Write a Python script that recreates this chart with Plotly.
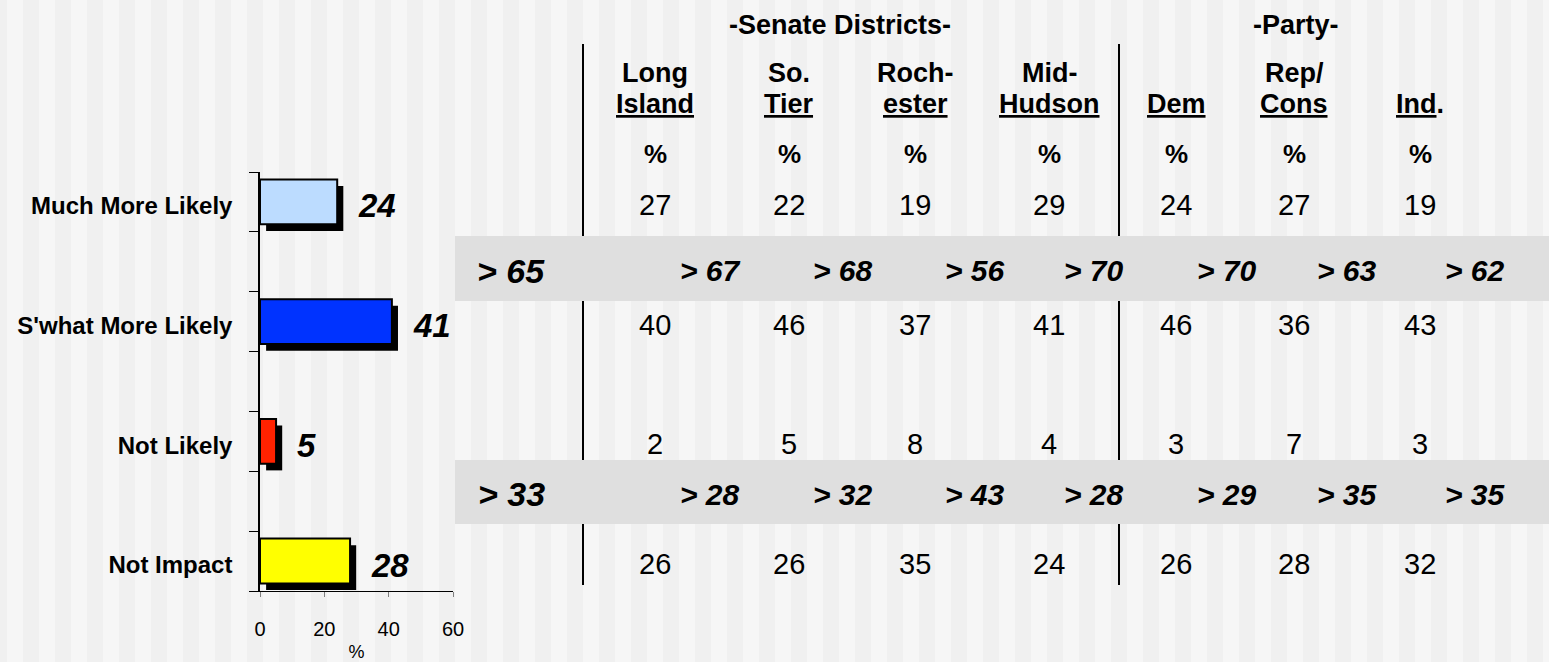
import plotly.graph_objects as go

# ---------------- data ----------------
categories = ["Much More Likely", "S'what More Likely", "Not Likely", "Not Impact"]
totals = [24, 41, 5, 28]
bar_colors = ["#bcdcff", "#0033ff", "#ff2200", "#ffff00"]

columns_top = ["Long", "So.", "Roch-", "Mid-", "", "Rep/", ""]
columns_bottom = ["Island", "Tier", "ester", "Hudson", "Dem", "Cons", "Ind"]
columns_suffix = ["", "", "", "", "", "", "."]
much_more = [27, 22, 19, 29, 24, 27, 19]
swhat_more = [40, 46, 37, 41, 46, 36, 43]
not_likely = [2, 5, 8, 4, 3, 7, 3]
not_impact = [26, 26, 35, 24, 26, 28, 32]
table_rows = [much_more, swhat_more, not_likely, not_impact]

net_more = [65, 67, 68, 56, 70, 70, 63, 62]
net_not = [33, 28, 32, 43, 28, 29, 35, 35]

x_ticks = [0, 20, 40, 60]

# ---------------- layout constants (pixels) ----------------
W, H = 1549, 662
PLOT_L, PLOT_R, PLOT_T, PLOT_B = 260, 453, 172, 591
col_px = [655, 789, 915, 1049, 1176, 1294, 1420]
net_px = [511, 710, 843, 975, 1094, 1227, 1347, 1475]
group_titles = [("-Senate Districts-", 840), ("-Party-", 1296)]
divider_px = [583, 1119]
bands_px = [(236, 301), (460, 524)]


def px(x):
    return x / W


def py(y):
    return 1 - y / H


FONT = "Liberation Sans, Arial, sans-serif"

positions = [2 * i for i in range(len(categories))]
bar_w = 0.75

fig = go.Figure()
# shadow bars
fig.add_trace(go.Bar(
    y=positions, x=totals, base=1.9, orientation="h", width=bar_w,
    offset=-bar_w / 2 + 0.11, marker=dict(color="black", line=dict(width=0)),
    hoverinfo="skip"))
# main bars
fig.add_trace(go.Bar(
    y=positions, x=totals, orientation="h", width=bar_w, offset=-bar_w / 2,
    marker=dict(color=bar_colors, line=dict(color="black", width=2))))

shapes = []
# background stripes
for k in range(0, W // 32 + 2):
    shapes.append(dict(type="rect", xref="paper", yref="paper",
                       x0=px(32 * k - 9), x1=px(32 * k + 7), y0=0, y1=1,
                       fillcolor="#f0f0f0", line=dict(width=0), layer="below"))
# dividers
for xd in divider_px:
    shapes.append(dict(type="line", xref="paper", yref="paper",
                       x0=px(xd), x1=px(xd), y0=py(44), y1=py(585),
                       line=dict(color="black", width=2), layer="below"))
# grey bands
for (y0, y1) in bands_px:
    shapes.append(dict(type="rect", xref="paper", yref="paper",
                       x0=px(455), x1=1, y0=py(y1), y1=py(y0),
                       fillcolor="#dfdfdf", line=dict(width=0), layer="below"))

ann = []
# value labels next to bars
for p, v in zip(positions, totals):
    ann.append(dict(x=v, y=p, xref="x", yref="y", text=f"<b><i>{v}</i></b>",
                    showarrow=False, xanchor="left", yanchor="middle",
                    xshift=19, yshift=-4,
                    font=dict(family=FONT, size=33, color="black")))

# group titles
for t, xc in group_titles:
    ann.append(dict(x=px(xc), y=py(25), xref="paper", yref="paper",
                    text=f"<b>{t}</b>", showarrow=False, xanchor="center",
                    yanchor="middle", font=dict(family=FONT, size=27, color="black")))

# column headers
for i, xc in enumerate(col_px):
    if columns_top[i]:
        ann.append(dict(x=px(xc), y=py(73), xref="paper", yref="paper",
                        text=f"<b>{columns_top[i]}</b>", showarrow=False,
                        xanchor="center", yanchor="middle",
                        font=dict(family=FONT, size=27, color="black")))
    ann.append(dict(x=px(xc), y=py(104), xref="paper", yref="paper",
                    text=f"<b><u>{columns_bottom[i]}</u>{columns_suffix[i]}</b>",
                    showarrow=False, xanchor="center", yanchor="middle",
                    font=dict(family=FONT, size=27, color="black")))
    ann.append(dict(x=px(xc), y=py(154), xref="paper", yref="paper",
                    text="<b>%</b>", showarrow=False, xanchor="center",
                    yanchor="middle", font=dict(family=FONT, size=26, color="black")))

# table values
for r, row in enumerate(table_rows):
    for i, v in enumerate(row):
        ann.append(dict(x=px(col_px[i]), y=positions[r], xref="paper", yref="y",
                        text=str(v), showarrow=False, xanchor="center",
                        yanchor="middle", yshift=-3,
                        font=dict(family=FONT, size=29, color="black")))

# net bands
for (y0, y1), nets in zip(bands_px, [net_more, net_not]):
    yc = (y0 + y1) / 2 + 2
    for i, v in enumerate(nets):
        ann.append(dict(x=px(net_px[i]), y=py(yc), xref="paper", yref="paper",
                        text=f"<b><i>> {v}</i></b>", showarrow=False,
                        xanchor="center", yanchor="middle",
                        font=dict(family=FONT, size=34 if i == 0 else 30,
                                  color="black")))

fig.update_layout(
    width=W, height=H, margin=dict(l=0, r=0, t=0, b=0, pad=0),
    paper_bgcolor="#f6f6f6", plot_bgcolor="rgba(0,0,0,0)",
    showlegend=False, barmode="overlay",
    shapes=shapes, annotations=ann,
    xaxis=dict(domain=[px(PLOT_L), px(PLOT_R)], range=[0, 60], automargin=False,
               tickmode="array", tickvals=x_ticks, ticks="outside", ticklen=5,
               tickcolor="#808080", showline=True, linecolor="black", linewidth=1,
               showgrid=False, zeroline=False, ticklabelstandoff=15,
               tickfont=dict(family=FONT, size=20, color="black"),
               title=dict(text="%", font=dict(family=FONT, size=18, color="black"),
                          standoff=6)),
    yaxis=dict(domain=[py(PLOT_B), py(PLOT_T)], range=[6.5, -0.5], automargin=False,
               tickmode="array", tickvals=positions, ticktext=categories,
               ticks="", showline=True, linecolor="black", linewidth=1.5,
               showgrid=False, zeroline=False, ticklabelstandoff=21,
               ticklabelshift=-4,
               tickfont=dict(family=FONT, size=24, color="black", weight="bold"),
               minor=dict(tickmode="array",
                          tickvals=[p - 0.5 for p in range(7)] + [6.5],
                          ticks="outside", ticklen=9, tickcolor="black",
                          tickwidth=1, showgrid=False)),
)

fig.write_html("out.html")
